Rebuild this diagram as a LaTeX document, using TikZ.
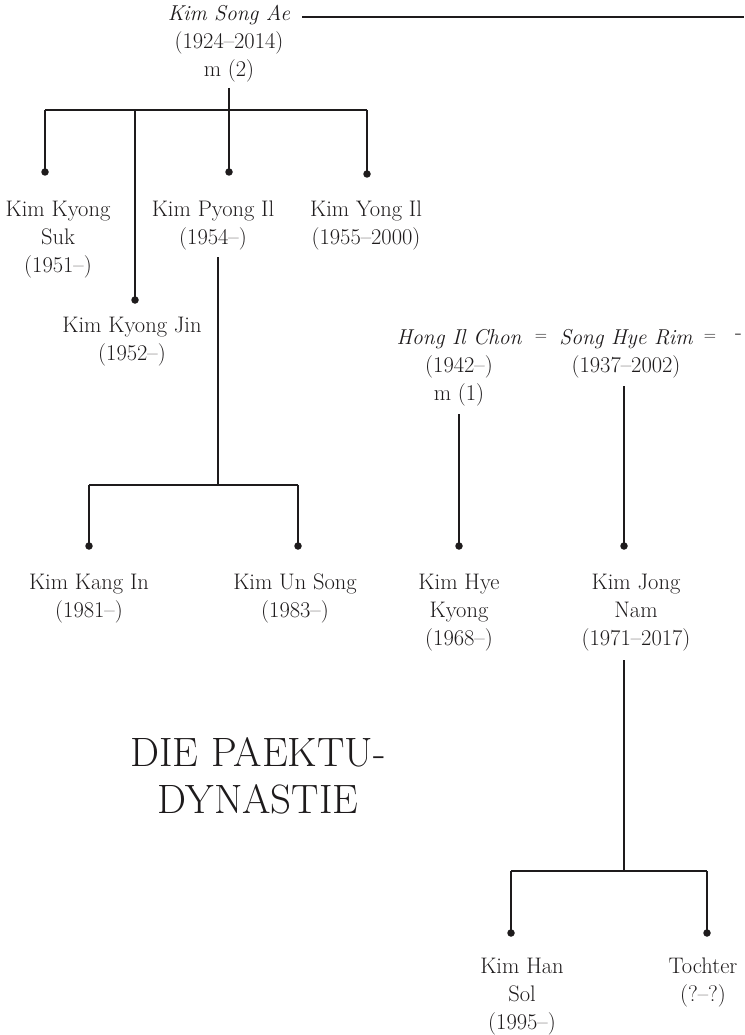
\documentclass[tikz,border=0pt]{standalone}
\usepackage{fontspec}
\definecolor{ink}{HTML}{1E1B1C}
\newcommand{\nameit}[1]{{\fontsize{21.5}{28}\selectfont\itshape #1}}
\tikzset{
  person/.style={align=center, inner sep=0pt, anchor=north, text=ink,
    font=\fontsize{22.5}{28}\selectfont},
  eqsign/.style={inner sep=0pt, anchor=north, text=ink,
    font=\fontsize{17}{28}\selectfont},
  title/.style={align=center, inner sep=0pt, anchor=north, text=ink,
    font=\fontsize{41}{47}\selectfont},
  conn/.style={draw=ink, line width=1.4pt},
  dot/.style={circle, fill=ink, draw=none, inner sep=0pt, minimum size=7.5pt},
}
\begin{document}
\begin{tikzpicture}[x=1pt,y=-1pt]
\useasboundingbox (0,0) rectangle (744,1035);

% ---------- people ----------
\node[person] (songae) at (229,5) {\nameit{Kim Song Ae}\\(1924--2014)\\m (2)};
\node[person] (suk) at (58,201) {Kim Kyong\\Suk\\(1951--)};
\node[person] (pyong) at (213,201) {Kim Pyong Il\\(1954--)};
\node[person] (yong) at (366,201) {Kim Yong Il\\(1955--2000)};
\node[person] (jin) at (132,317) {Kim Kyong Jin\\(1952--)};
\node[person] (kang) at (89,574) {Kim Kang In\\(1981--)};
\node[person] (un) at (295,574) {Kim Un Song\\(1983--)};
\node[person] (hong) at (459,329) {\nameit{Hong Il Chon}\\(1942--)\\m (1)};
\node[person] (rim) at (626,329) {\nameit{Song Hye Rim}\\(1937--2002)};
\node[eqsign] (eq1) at (541,334) {=};
\node[eqsign] (eq2) at (710,334) {=};
\node[person, anchor=north west] (dash) at (735,334) {-};
\node[person] (hye) at (459,574) {Kim Hye\\Kyong\\(1968--)};
\node[person] (nam) at (636,574) {Kim Jong\\Nam\\(1971--2017)};
\node[person] (han) at (522,958) {Kim Han\\Sol\\(1995--)};
\node[person] (toch) at (703,958) {Tochter\\(?--?)};
\node[title] (ttl) at (258,737) {DIE PAEKTU-\\DYNASTIE};

% ---------- dots ----------
\node[dot] (d-suk) at (45,172) {};
\node[dot] (d-jin) at (135,300) {};
\node[dot] (d-pyong) at (229,172) {};
\node[dot] (d-yong) at (367,174) {};
\node[dot] (d-kang) at (89,546) {};
\node[dot] (d-un) at (298,546) {};
\node[dot] (d-hye) at (459,546) {};
\node[dot] (d-nam) at (624,546) {};
\node[dot] (d-han) at (511,933) {};
\node[dot] (d-toch) at (707,933) {};

% ---------- junction coordinates ----------
\coordinate (sa-line) at (302,17);
\coordinate (sa-end) at (744,17);
\coordinate (sa-down) at (229,88);
\coordinate (bar1-m) at (229,110);
\coordinate (bar1-l) at (45,110);
\coordinate (bar1-j) at (135,110);
\coordinate (bar1-r) at (367,110);
\coordinate (py-down) at (218,257);
\coordinate (bar2-m) at (218,485);
\coordinate (bar2-l) at (89,485);
\coordinate (bar2-r) at (298,485);
\coordinate (hong-down) at (459,414);
\coordinate (rim-down) at (624,386);
\coordinate (nam-down) at (624,660);
\coordinate (bar3-m) at (624,871);
\coordinate (bar3-l) at (511,871);
\coordinate (bar3-r) at (707,871);

% ---------- connectors ----------
\draw[conn] (sa-line) -- (sa-end);
\draw[conn] (sa-down) -- (bar1-m);
\draw[conn] (bar1-l) -- (bar1-r);
\draw[conn] (bar1-l) -- (d-suk.center);
\draw[conn] (bar1-j) -- (d-jin.center);
\draw[conn] (bar1-m) -- (d-pyong.center);
\draw[conn] (bar1-r) -- (d-yong.center);

\draw[conn] (py-down) -- (bar2-m);
\draw[conn] (bar2-l) -- (bar2-r);
\draw[conn] (bar2-l) -- (d-kang.center);
\draw[conn] (bar2-r) -- (d-un.center);

\draw[conn] (hong-down) -- (d-hye.center);
\draw[conn] (rim-down) -- (d-nam.center);

\draw[conn] (nam-down) -- (bar3-m);
\draw[conn] (bar3-l) -- (bar3-r);
\draw[conn] (bar3-l) -- (d-han.center);
\draw[conn] (bar3-r) -- (d-toch.center);
\end{tikzpicture}
\end{document}
